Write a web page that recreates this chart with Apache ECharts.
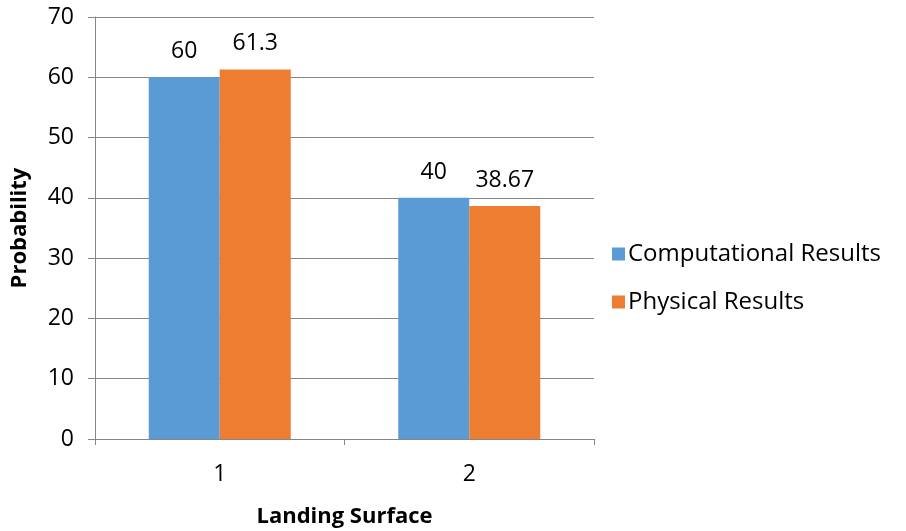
<!DOCTYPE html>
<html>
<head>
<meta charset="utf-8">
<script src="https://cdn.jsdelivr.net/npm/echarts@6/dist/echarts.min.js"></script>
<style>
  html, body { margin: 0; padding: 0; background: #ffffff; }
  #chart { width: 906px; height: 531px; }
</style>
</head>
<body>
<div id="chart"></div>
<script>
// Landing surface categories and the two result series
const categories = ['1', '2'];
const computationalResults = [60, 40];
const physicalResults = [61.3, 38.67];
const yTicks = { min: 0, max: 70, interval: 10 };

const FONT = '"Open Sans", "Noto Sans", sans-serif';
const chart = echarts.init(document.getElementById('chart'), null, { renderer: 'canvas' });

const labelStyle = {
  show: true,
  position: 'top',
  distance: 14,
  color: '#000',
  fontFamily: FONT,
  fontSize: 23
};

chart.setOption({
  animation: false,
  grid: { left: 95, right: 312, top: 17, bottom: 92, outerBoundsMode: 'none' },
  legend: {
    orient: 'vertical',
    left: 607,
    top: 237,
    itemWidth: 13,
    itemHeight: 13,
    itemGap: 24,
    icon: 'rect',
    textStyle: { fontFamily: FONT, fontSize: 24, color: '#000', padding: [0, 0, 0, -2] },
    data: ['Computational Results', 'Physical Results']
  },
  xAxis: {
    type: 'category',
    data: categories,
    name: 'Landing Surface',
    nameLocation: 'middle',
    nameGap: 67,
    nameTextStyle: { fontFamily: FONT, fontSize: 22, fontWeight: 'bold', color: '#000', verticalAlign: 'top' },
    axisLine: { lineStyle: { color: '#868686', width: 1 } },
    axisTick: { show: true, length: 6, lineStyle: { color: '#868686' } },
    axisLabel: { fontFamily: FONT, fontSize: 23, color: '#000', margin: 24 }
  },
  yAxis: {
    type: 'value',
    min: yTicks.min,
    max: yTicks.max,
    interval: yTicks.interval,
    name: 'Probability',
    nameLocation: 'middle',
    nameGap: 75,
    nameRotate: 90,
    nameTextStyle: { fontFamily: FONT, fontSize: 22, fontWeight: 'bold', color: '#000', verticalAlign: 'middle' },
    axisLine: { show: true, lineStyle: { color: '#868686', width: 1 } },
    axisTick: { show: true, length: 7, lineStyle: { color: '#868686' } },
    axisLabel: { fontFamily: FONT, fontSize: 23, color: '#000', margin: 21 },
    splitLine: { show: true, lineStyle: { color: '#868686', width: 1 } }
  },
  series: [
    {
      name: 'Computational Results',
      type: 'bar',
      data: computationalResults,
      barWidth: 71,
      barGap: '0%',
      itemStyle: { color: '#5B9BD5' },
      label: labelStyle
    },
    {
      name: 'Physical Results',
      type: 'bar',
      data: physicalResults,
      barWidth: 71,
      barGap: '0%',
      itemStyle: { color: '#ED7D31' },
      label: labelStyle
    }
  ]
});
</script>
</body>
</html>
